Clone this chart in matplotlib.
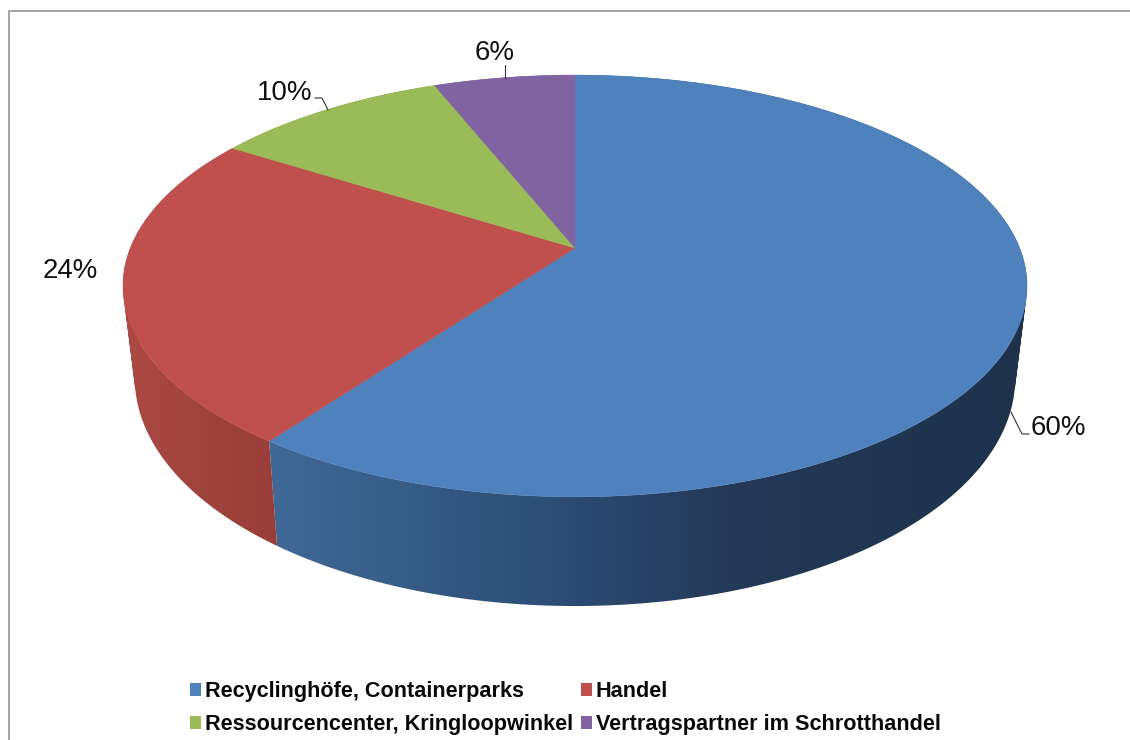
import numpy as np
import matplotlib
matplotlib.use("Agg")
import matplotlib.pyplot as plt
from matplotlib.patches import Patch, Polygon, PathPatch
from matplotlib.path import Path
from matplotlib.colors import LinearSegmentedColormap

categories = ["Recyclinghöfe, Containerparks", "Handel",
              "Ressourcencenter, Kringloopwinkel", "Vertragspartner im Schrotthandel"]
values = [60, 24, 10, 6]
colors = ["#4F81BD", "#C0504D", "#9BBB59", "#8064A2"]
side_colors = [
    [(0.0, "#406896"), (0.34, "#2E507A"), (0.6, "#243A58"), (1.0, "#1E324C")],
    [(0.0, "#AA4842"), (1.0, "#983E38")],
    [(0.0, "#7A9445"), (1.0, "#7A9445")],
    [(0.0, "#654F80"), (1.0, "#654F80")],
]
side_ranges = [(276, 1020), (135, 276), (230, 440), (435, 575)]
label_pos = [(1031, 435), (43, 278), (257, 100), (475, 60)]
leaders = [[(1011, 412), (1022, 434), (1029, 434)],
           [],
           [(328, 110), (322, 98), (315, 98)],
           [(505, 78), (505, 65)]]

plt.rcParams["font.family"] = ["Liberation Sans", "DejaVu Sans"]
fig = plt.figure(figsize=(11.3, 7.4), dpi=100)
ax = fig.add_axes([0, 0, 1, 1])
ax.axis("off")

TOP = dict(cx=575.0, cy=248.0, a=444.6, b=204.0, k=0.18)
BOT = dict(cx=575.0, cy=337.0, a=433.0, b=220.6, k=0.18)


def project(t, p):
    u, v = np.sin(t), np.cos(t)
    w = 1 + p["k"] * v
    return p["cx"] + p["a"] * u / w, p["cy"] - p["b"] * v / w


def wall_path(ts):
    """Union of the quads between the two rims, every quad wound the same way."""
    x1, y1 = project(ts, TOP)
    x2, y2 = project(ts, BOT)
    verts, codes = [], []
    for j in range(len(ts) - 1):
        q = np.array([(x1[j], y1[j]), (x1[j + 1], y1[j + 1]),
                      (x2[j + 1], y2[j + 1]), (x2[j], y2[j])])
        qx, qy = q[:, 0], q[:, 1]
        area = np.sum(qx * np.roll(qy, -1) - np.roll(qx, -1) * qy)
        if area < 0:
            q = q[::-1]
        verts.extend(list(q) + [q[0]])
        codes.extend([Path.MOVETO, Path.LINETO, Path.LINETO, Path.LINETO, Path.CLOSEPOLY])
    return Path(np.array(verts), codes)


# frame: open on the right and at the bottom
ax.plot([8.5, 8.5, 1130], [740, 10.5, 10.5], color="#8C8C8C", lw=1.1, zorder=0)

edges = np.cumsum([0] + values) / sum(values) * 2 * np.pi

# side wall: horizontal gradient clipped to the wall outline
xs = np.arange(1130) + 0.5
for i in range(len(values)):
    ts = np.linspace(edges[i], edges[i + 1], 240)
    cmap = LinearSegmentedColormap.from_list("s", side_colors[i])
    lo, hi = side_ranges[i]
    grad = np.clip((xs - lo) / (hi - lo), 0, 1).reshape(1, -1)
    im = ax.imshow(grad, cmap=cmap, vmin=0, vmax=1, extent=(0, 1130, 740, 0),
                   aspect="auto", zorder=2 + i * 0.01)
    clip = PathPatch(wall_path(ts), transform=ax.transData, fc="none", ec="none")
    ax.add_patch(clip)
    im.set_clip_path(clip)

# top surface
for i in range(len(values)):
    ts = np.linspace(edges[i], edges[i + 1], 200)
    x, y = project(ts, TOP)
    pts = np.column_stack([np.r_[TOP["cx"], x], np.r_[TOP["cy"], y]])
    ax.add_patch(Polygon(pts, closed=True, fc=colors[i], ec=colors[i], lw=0.4, zorder=3))

# labels
for v, (lx, ly), pts in zip(values, label_pos, leaders):
    ax.text(lx, ly, f"{v}%", fontsize=19.9, color="#111111", ha="left", va="baseline", zorder=5)
    if pts:
        ax.plot(*zip(*pts), color="#333333", lw=0.8, zorder=4)

ax.set_xlim(0, 1130)
ax.set_ylim(740, 0)

# legend fills column by column
order = [0, 2, 1, 3]
handles = [Patch(fc=colors[i], ec="none", label=categories[i]) for i in order]
leg = ax.legend(handles=handles, ncol=2, loc="lower left", bbox_to_anchor=(190 / 1130, 5 / 740),
                bbox_transform=fig.transFigure, frameon=False, borderpad=0, borderaxespad=0,
                prop=dict(family="Liberation Sans", weight="bold", size=15.55),
                handlelength=0.52, handleheight=0.52, handletextpad=0.17,
                labelspacing=0.56, columnspacing=0.36, labelcolor="#0A0A0A")

fig.savefig("out.png", dpi=100)
